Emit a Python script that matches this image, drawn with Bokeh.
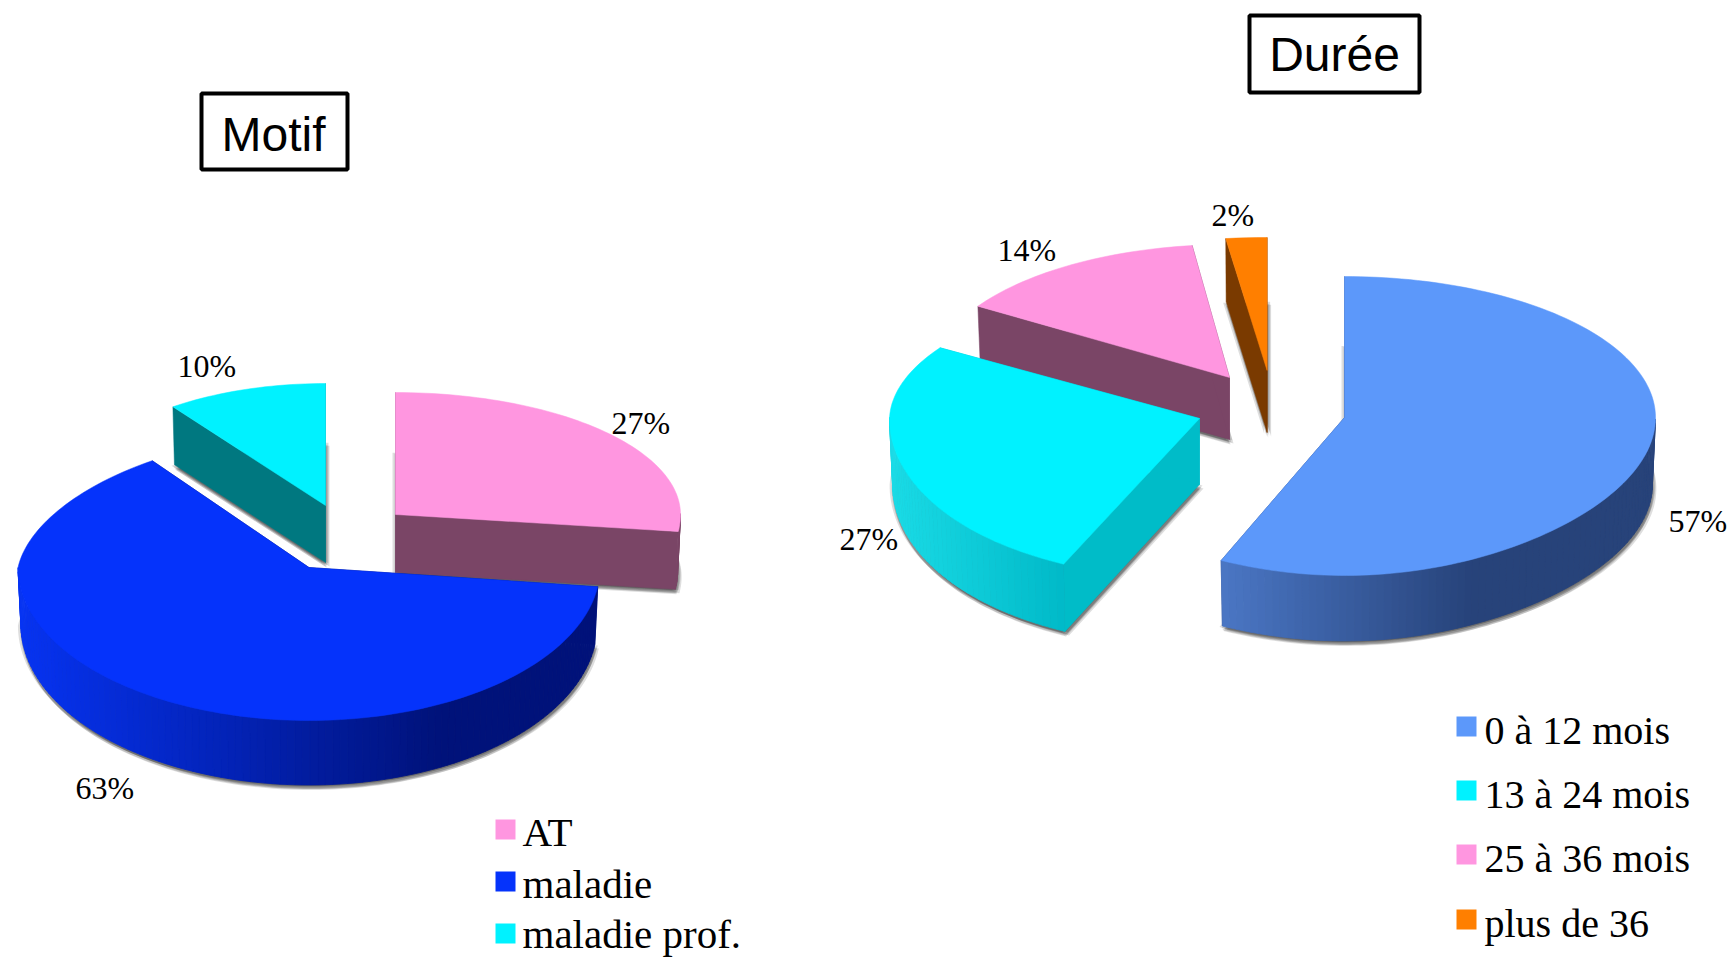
import math
from bokeh.plotting import figure
from bokeh.models import Range1d
from bokeh.core.properties import value
from bokeh.embed import file_html
from bokeh.resources import INLINE

# ---- data ----
motif_labels = ["AT", "maladie", "maladie prof."]
motif_values = [27, 63, 10]
motif_texts = ["27%", "63%", "10%"]
duree_labels = ["0 à 12 mois", "13 à 24 mois", "25 à 36 mois", "plus de 36"]
duree_values = [57, 27, 14, 2]
duree_texts = ["57%", "27%", "14%", "2%"]

# ---- styles ----
SERIF = value("Liberation Serif")
SANS = value("Liberation Sans")
# apex x/y, rx, front/back radii, depth, extra front depth, top colour, cut colour, gradient from/to, gradient x-range
motif_style = [
    dict(ax=395, ay=514, rx=285, rxf=285, rxb=285, ryf=136, ryb=122, d=58, ex=0, top="#ff96e0", cut="#7a4566", c0="#7a4566", c1="#7a4566", x0=0, x1=1),
    dict(ax=308.5, ay=567, rx=291, rxf=291, rxb=261, ryf=153, ryb=132, d=57, ex=9, top="#0533fb", cut="#00127a", c0="#0633f2", c1="#00127a", x0=18, x1=440),
    dict(ax=325, ay=505, rx=258, rxf=258, rxb=260, ryf=122, ryb=122, d=57, ex=0, top="#00f2ff", cut="#007880", c0="#007880", c1="#007880", x0=0, x1=1),
]
duree_style = [
    dict(ax=1344, ay=417, rx=311, rxf=285, rxb=311, ryf=158, ryb=141, d=67, ex=0, top="#5c98fa", cut="#27437a", c0="#4a76c4", c1="#27437a", x0=1222, x1=1470),
    dict(ax=1199, ay=418, rx=310, rxf=321, rxb=305, ryf=161, ryb=132, d=66, ex=3, top="#00f2ff", cut="#00bcc8", c0="#1adbe6", c1="#00b9c8", x0=890, x1=1065),
    dict(ax=1229, ay=377, rx=298, rxf=298, rxb=298, ryf=133, ryb=133, d=62, ex=0, top="#ff96e0", cut="#7a4566", c0="#7a4566", c1="#7a4566", x0=0, x1=1),
    dict(ax=1266.6, ay=370, rx=330, rxf=330, rxb=330, ryf=133, ryb=133, d=62, ex=0, top="#ff7f00", cut="#7a3a00", c0="#7a3a00", c1="#7a3a00", x0=0, x1=1),
]
K = 0.99
SHADOW_OFFSETS = [(-3, 1), (3, 1), (0, 4), (4, 4), (-1, 2), (2, 3), (1, 5)]
BASE_FIX = 0.33

p = figure(width=1733, height=958, output_backend="svg", toolbar_location=None,
           x_range=Range1d(0, 1733), y_range=Range1d(958, 0), min_border=0,
           outline_line_color=None, background_fill_color="white", border_fill_color="white")
p.axis.visible = False
p.grid.visible = False


def mix(c0, c1, t):
    t = max(0.0, min(1.0, t))
    a = [int(c0[i:i + 2], 16) for i in (1, 3, 5)]
    b = [int(c1[i:i + 2], 16) for i in (1, 3, 5)]
    return "#%02x%02x%02x" % tuple(round(u + (v - u) * t) for u, v in zip(a, b))


def top_pt(s, deg):
    r = math.radians(deg)
    sn = math.sin(r)
    rx = s["rx"] + ((s["rxf"] - s["rx"]) * sn * sn if sn >= 0 else (s["rxb"] - s["rx"]) * -sn)
    return s["ax"] + rx * math.cos(r), s["ay"] + (s["ryf"] if sn >= 0 else s["ryb"]) * sn


def bottom_pt(s, deg):
    x, y = top_pt(s, deg)
    sn = max(0.0, math.sin(math.radians(deg)))
    return s["ax"] + (x - s["ax"]) * K, s["ay"] + (y - s["ay"]) * K + s["d"] + s["ex"] * sn


def apex_bottom(s):
    return s["ax"], s["ay"] + s["d"]


def draw_slice(s, a0, a1):
    n = max(2, int((a1 - a0) / 1.5))
    angs = [a0 + (a1 - a0) * i / n for i in range(n + 1)]
    # soft shadow of the slice's floor
    fl = [apex_bottom(s)] + [bottom_pt(s, a) for a in angs]
    for dx, dy in SHADOW_OFFSETS:
        p.patch([q[0] + dx for q in fl], [q[1] + dy for q in fl], fill_color="#000000",
                fill_alpha=0.13, line_color=None)
    # cut faces
    for a in (a0, a1):
        tp, bp = top_pt(s, a), bottom_pt(s, a)
        ab = apex_bottom(s)
        p.patch([s["ax"], tp[0], bp[0], ab[0]], [s["ay"], tp[1], bp[1], ab[1]],
                fill_color=s["cut"], line_color=s["cut"], line_width=0.5)
    # outer wall, front part only
    xs, ys, cols = [], [], []
    for u, v in zip(angs[:-1], angs[1:]):
        mid = (u + v) / 2
        if math.sin(math.radians(mid)) < 0:
            continue
        t0, t1 = top_pt(s, u), top_pt(s, v)
        b0, b1 = bottom_pt(s, u), bottom_pt(s, v)
        xs.append([t0[0], t1[0], b1[0], b0[0]])
        ys.append([t0[1], t1[1], b1[1], b0[1]])
        cols.append(mix(s["c0"], s["c1"], ((t0[0] + t1[0]) / 2 - s["x0"]) / (s["x1"] - s["x0"])))
    if xs:
        p.patches(xs, ys, fill_color=cols, line_color=cols, line_width=0.8)
    # top face
    pts = [(s["ax"], s["ay"])] + [top_pt(s, a) for a in angs]
    p.patch([q[0] for q in pts], [q[1] for q in pts], fill_color=s["top"], line_color=s["top"], line_width=0.5)


def spans(vals):
    out, a = [], -90.0
    for v in vals:
        b = a + v * 3.6
        out.append((a, b))
        a = b
    return out


def draw_pie(vals, styles, order):
    sp = spans(vals)
    for i in order:
        draw_slice(styles[i], sp[i][0], sp[i][1])


draw_pie(motif_values, motif_style, [2, 0, 1])
draw_pie(duree_values, duree_style, [3, 2, 1, 0])


def labels(texts, xs, ys, size, font, align="left"):
    px = float(size[:-2])
    p.text(xs, [y - BASE_FIX * px for y in ys], text=texts, text_font=font, text_font_size=value(size),
           text_color="#000000", text_align=align, text_baseline="alphabetic")


# percentage labels
labels(motif_texts, [611, 75, 177], [433, 798, 376], "32px", SERIF)
labels(duree_texts, [1668, 839, 997, 1211], [531, 549, 260, 225], "32px", SERIF)

# legends
def legend(names, colors, sx, sy, tx, by, size):
    p.quad(left=[sx] * len(names), right=[sx + 20] * len(names), top=sy, bottom=[y + 20 for y in sy],
           fill_color=colors, line_color=None)
    labels(names, [tx] * len(names), by, size, SERIF)


legend(motif_labels, [s["top"] for s in motif_style], 495, [819, 871, 923], 522, [845, 897, 947], "41px")
legend(duree_labels, [s["top"] for s in duree_style], 1456, [716, 780, 844, 909], 1484, [743, 807, 871, 936], "40px")

# titled boxes
for name, l, r, t, b, cx, base in [("Motif", 201, 347, 93, 169, 273, 150), ("Durée", 1249, 1419, 15, 92, 1334, 70)]:
    p.quad(left=[l], right=[r], top=[t], bottom=[b], fill_color="white", line_color="black", line_width=4)
    labels([name], [cx], [base], "48px", SANS, "center")

open("out.html", "w").write(file_html(p, INLINE))
